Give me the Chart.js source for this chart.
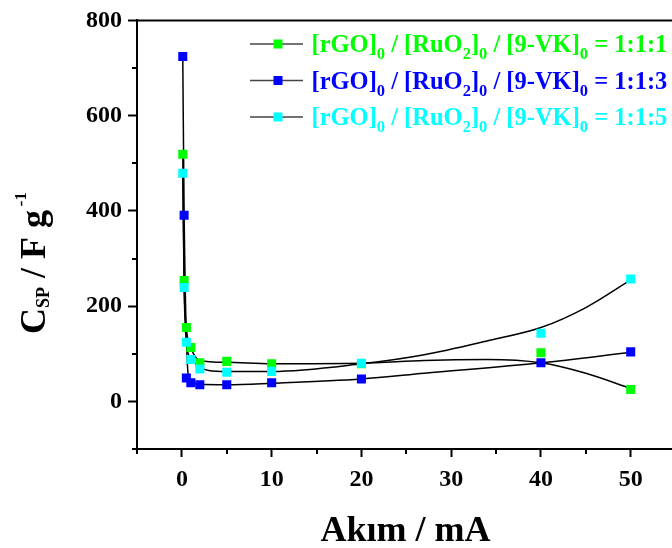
<!DOCTYPE html>
<html>
<head>
<meta charset="utf-8">
<script src="https://cdn.jsdelivr.net/npm/chart.js@4.4.0/dist/chart.umd.min.js"></script>
<style>
	html, body { margin: 0; padding: 0; background: #fff; }
	#wrap { width: 672px; height: 548px; position: relative; }
</style>
</head>
<body>
<div id="wrap"><canvas id="chart"></canvas></div>
<script>
// current (mA) and specific capacitance (F/g) for the three ratios
const currents = [0.1, 0.25, 0.5, 1, 2, 5, 10, 20, 40, 50];
const ratio111 = [519, 254, 155, 113, 81, 84, 79, 79, 102, 25];
const ratio113 = [724, 391, 49, 39, 35, 35, 39, 47, 81, 104];
const ratio115 = [479, 239, 124, 88, 68, 61, 63, 80, 143, 257];

// fitted curves
const fit111X = [0.1, 0.25, 0.5, 1, 2, 5, 10, 20, 27, 34, 40, 45, 50];
const fit111Y = [519, 254, 155, 113, 86, 82, 79, 80, 86, 88, 81, 59, 27];
const fit113X = [0.1, 0.25, 0.75, 1.5, 2, 5, 10, 20, 27, 40, 50];
const fit113Y = [724, 391, 51, 37, 36, 35, 38, 47, 59, 81, 103];
const fit115X = [0.1, 0.25, 0.5, 1, 2, 3, 5, 10, 20, 27, 34, 40, 45, 50];
const fit115Y = [479, 239, 124, 90, 72, 65, 63, 63, 79, 98, 127, 155, 197, 255];

const seriesRatios = ['1:1:1', '1:1:3', '1:1:5'];
const seriesColors = ['#00ff00', '#0000ff', '#00ffff'];

const xMajor = [0, 10, 20, 30, 40, 50];
const xMinor = [-5, 5, 15, 25, 35, 45];
const yMajor = [0, 200, 400, 600, 800];
const yMinor = [-100, 100, 300, 500, 700];

const FONT = '"Liberation Serif", "Times New Roman", serif';

function drawRich(ctx, x, y, parts) {
	for (const [text, size, dy] of parts) {
		ctx.font = `bold ${size}px ${FONT}`;
		ctx.fillText(text, x, y + dy);
		x += ctx.measureText(text).width;
	}
	return x;
}

const decorPlugin = {
	id: 'decor',
	afterDraw(chart) {
		const ctx = chart.ctx;
		const area = chart.chartArea;
		const xs = chart.scales.x;
		const ys = chart.scales.y;
		ctx.save();

		// top frame line
		ctx.strokeStyle = '#000';
		ctx.lineWidth = 2;
		ctx.beginPath();
		ctx.moveTo(area.left - 1, area.top);
		ctx.lineTo(area.right, area.top);
		ctx.stroke();

		// minor ticks
		ctx.beginPath();
		for (const v of xMinor) {
			const px = Math.round(xs.getPixelForValue(v));
			ctx.moveTo(px, area.bottom);
			ctx.lineTo(px, area.bottom + 5);
		}
		for (const v of yMinor) {
			const py = Math.round(ys.getPixelForValue(v));
			ctx.moveTo(area.left - 5, py);
			ctx.lineTo(area.left, py);
		}
		ctx.stroke();

		// axis titles
		ctx.fillStyle = '#000';
		ctx.textBaseline = 'alphabetic';
		ctx.font = `bold 36px ${FONT}`;
		ctx.textAlign = 'center';
		ctx.fillText('Akım / mA', (area.left + area.right) / 2 + 1, 541);
		ctx.textAlign = 'left';

		ctx.save();
		ctx.translate(45, 334);
		ctx.rotate(-Math.PI / 2);
		drawRich(ctx, 0, 0, [
			['C', 36, 0], ['SP', 18, 4], [' / F g', 36, 0], ['\u2009-1', 17.5, -19]
		]);
		ctx.restore();

		// legend
		seriesRatios.forEach((r, i) => {
			const cy = 44 + i * 36.5;
			ctx.strokeStyle = '#444';
			ctx.lineWidth = 1.5;
			ctx.beginPath();
			ctx.moveTo(250, cy);
			ctx.lineTo(303, cy);
			ctx.stroke();
			ctx.fillStyle = seriesColors[i];
			ctx.fillRect(273.5, cy - 4.5, 9, 9);
			drawRich(ctx, 311.5, cy + 8, [
				['[rGO]', 24.5, 0], ['0', 16.5, 7], [' / [RuO', 24.5, 0], ['2', 16.5, 7],
				[']', 24.5, 0], ['0', 16.5, 7], [' / [9-VK]', 24.5, 0], ['0', 16.5, 7],
				[' = ' + r, 24.5, 0]
			]);
		});
		ctx.restore();
	}
};

function markers(ys, color, order) {
	return {
		type: 'scatter',
		data: currents.map((x, i) => ({ x, y: ys[i] })),
		pointStyle: 'rect',
		pointRadius: 6.4,
		pointHoverRadius: 6.4,
		backgroundColor: color,
		borderColor: color,
		borderWidth: 0,
		showLine: false,
		order,
	};
}

function fitLine(xs, ys) {
	return {
		type: 'line',
		data: xs.map((x, i) => ({ x, y: ys[i] })),
		borderColor: '#000',
		borderWidth: 1.5,
		pointRadius: 0,
		showLine: true,
		fill: false,
		cubicInterpolationMode: 'monotone',
		order: 4,
	};
}

const tickFont = { family: FONT, size: 24, weight: 'bold' };

new Chart(document.getElementById('chart'), {
	type: 'scatter',
	data: {
		datasets: [
			markers(ratio111, seriesColors[0], 3),
			markers(ratio113, seriesColors[1], 2),
			markers(ratio115, seriesColors[2], 1),
			fitLine(fit111X, fit111Y),
			fitLine(fit113X, fit113Y),
			fitLine(fit115X, fit115Y),
		],
	},
	options: {
		responsive: true,
		maintainAspectRatio: false,
		animation: false,
		devicePixelRatio: 1,
		layout: { autoPadding: false, padding: { top: 18, right: 0, left: 0, bottom: 0 } },
		plugins: {
			legend: { display: false },
			tooltip: { enabled: false },
		},
		scales: {
			x: {
				type: 'linear',
				min: -5,
				max: 54.6,
				afterBuildTicks: (s) => {
					s.ticks = xMinor.concat(xMajor).sort((a, b) => a - b).map((v) => ({ value: v }));
				},
				afterFit: (s) => {
					s.height = 99;
					s.paddingLeft = 0;
					s.paddingRight = 0;
				},
				ticks: {
					autoSkip: false,
					maxRotation: 0,
					padding: 8,
					color: '#000',
					font: tickFont,
					callback: (v) => (xMajor.includes(v) ? String(v) : ''),
				},
				grid: {
					drawOnChartArea: false,
					drawTicks: true,
					tickLength: 8,
					tickWidth: 2,
					tickColor: (c) => (c.tick && xMajor.includes(c.tick.value) ? '#000' : 'rgba(0,0,0,0)'),
				},
				border: { color: '#000', width: 2 },
			},
			y: {
				type: 'linear',
				min: -100,
				max: 800,
				afterBuildTicks: (s) => {
					s.ticks = yMinor.concat(yMajor).sort((a, b) => a - b).map((v) => ({ value: v }));
				},
				afterFit: (s) => {
					s.width = 137;
				},
				ticks: {
					autoSkip: false,
					padding: 6,
					color: '#000',
					font: tickFont,
					callback: (v) => (yMajor.includes(v) ? String(v) : ''),
				},
				grid: {
					drawOnChartArea: false,
					drawTicks: true,
					tickLength: 9,
					tickWidth: 2,
					tickColor: (c) => (c.tick && yMajor.includes(c.tick.value) ? '#000' : 'rgba(0,0,0,0)'),
				},
				border: { color: '#000', width: 2 },
			},
		},
	},
	plugins: [decorPlugin],
});
</script>
</body>
</html>
